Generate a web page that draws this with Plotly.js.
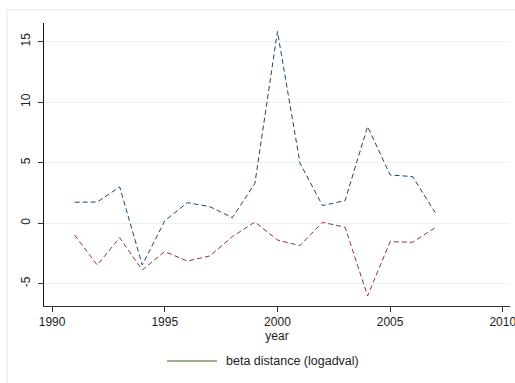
<!DOCTYPE html>
<html>
<head>
<meta charset="utf-8">
<script src="https://cdn.plot.ly/plotly-3.0.1.min.js"></script>
<style>
  html, body { margin: 0; padding: 0; background: #ffffff; }
  #frame { position: absolute; left: 6px; top: 9px; width: 600px; height: 500px;
           border-left: 2px solid #edf2f4; border-top: 2px solid #edf2f4; }
  #chart { position: absolute; left: 0; top: 0; width: 515px; height: 383px; }
</style>
</head>
<body>
<div id="frame"></div>
<div id="chart"></div>
<script>
const years = [1991, 1992, 1993, 1994, 1995, 1996, 1997, 1998, 1999, 2000, 2001, 2002, 2003, 2004, 2005, 2006, 2007];
const seriesBlue = [1.74, 1.75, 3.0, -3.45, 0.2, 1.7, 1.37, 0.46, 3.3, 15.83, 4.96, 1.46, 1.87, 7.98, 3.99, 3.85, 0.88];
const seriesRed = [-0.97, -3.45, -1.19, -3.86, -2.34, -3.12, -2.7, -1.1, 0.1, -1.38, -1.85, 0.08, -0.33, -6.0, -1.52, -1.57, -0.36];
const seriesBeta = years.map(() => null);
const legendLabel = 'beta distance (logadval)';
const xTicks = [1990, 1995, 2000, 2005, 2010];
const yTicks = [-5, 0, 5, 10, 15];

const font = { family: 'Liberation Sans, Arial, sans-serif', size: 12, color: '#222222' };
const legendFont = { family: 'Liberation Sans, Arial, sans-serif', size: 12.5, color: '#222222' };
const betaColor = '#9cb088';

const traces = [
  { x: years, y: seriesBlue, type: 'scatter', mode: 'lines', showlegend: false,
    line: { color: '#1a476f', width: 1, dash: '5px,3px' }, hoverinfo: 'skip' },
  { x: years, y: seriesRed, type: 'scatter', mode: 'lines', showlegend: false,
    line: { color: '#90353b', width: 1, dash: '5px,3px' }, hoverinfo: 'skip' },
  { x: years, y: seriesBeta, type: 'scatter', mode: 'lines', name: legendLabel, showlegend: false,
    line: { color: betaColor, width: 2 } }
];

// legend (drawn in paper coords below the plot area)
const plotW = 515 - 44 - 5, plotH = 383 - 23 - 77;
const px = (x) => (x - 44) / plotW;
const py = (y) => (383 - 77 - y) / plotH;

const layout = {
  width: 515, height: 383,
  paper_bgcolor: 'rgba(0,0,0,0)', plot_bgcolor: '#ffffff',
  margin: { l: 44, r: 5, t: 23, b: 77 },
  font: font,
  showlegend: false,
  xaxis: {
    range: [1989.64, 2010.32], tickvals: xTicks, ticktext: xTicks.map(String),
    showgrid: false, zeroline: false, showline: true, linecolor: '#333333', linewidth: 1,
    ticks: 'outside', ticklen: 5, tickcolor: '#333333', tickfont: font,
    ticklabeloverflow: 'allow', automargin: false,
    title: { text: 'year', font: font, standoff: 1 }
  },
  yaxis: {
    range: [-6.83, 16.53], tickvals: yTicks, ticktext: yTicks.map(String), tickangle: -90,
    showgrid: true, gridcolor: '#eaf2f3', gridwidth: 1, zeroline: false,
    showline: true, linecolor: '#111111', linewidth: 1, automargin: false,
    ticks: 'outside', ticklen: 5, tickcolor: '#333333', tickfont: font,
    ticklabelstandoff: 3
  },
  shapes: [
    { type: 'line', xref: 'paper', yref: 'paper', x0: px(167), x1: px(217), y0: py(361), y1: py(361),
      line: { color: betaColor, width: 2 } }
  ],
  annotations: [
    { xref: 'paper', yref: 'paper', x: px(224), y: py(361), xanchor: 'left', yanchor: 'middle',
      text: legendLabel, showarrow: false, font: legendFont }
  ]
};

Plotly.newPlot('chart', traces, layout, { displayModeBar: false, staticPlot: true });
</script>
</body>
</html>
